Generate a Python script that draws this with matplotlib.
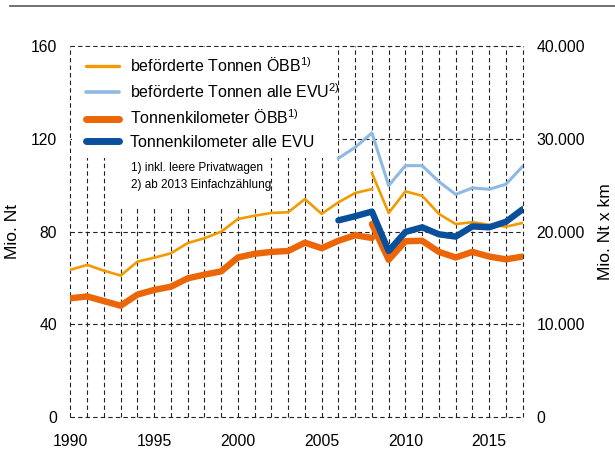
import matplotlib
matplotlib.use('Agg')
import matplotlib.pyplot as plt
from matplotlib import font_manager
from matplotlib.lines import Line2D
from matplotlib.patches import Rectangle
from matplotlib.ticker import FuncFormatter

#%% Data

years_a = list(range(1990, 2009))   # ÖBB series before the 2008 break
years_b = list(range(2008, 2018))   # ÖBB series after the break
years_evu = list(range(2006, 2018))

# beförderte Tonnen ÖBB, Mio. Nt
tonnen_oebb_a = [63.5, 65.6, 63.1, 61.0, 67.0, 68.7, 70.6, 75.0, 77.1, 79.9,
                 85.4, 86.8, 88.0, 88.3, 94.0, 87.6, 92.6, 96.6, 98.3]
tonnen_oebb_b = [105.2, 88.0, 97.3, 95.4, 87.6, 83.2, 84.0, 82.9, 82.1, 83.7]

# beförderte Tonnen alle EVU, Mio. Nt
tonnen_evu = [111.6, 116.3, 122.5, 99.8, 108.4, 108.4, 101.5, 96.0, 98.8, 98.2, 100.4, 108.1]

# Tonnenkilometer ÖBB, Mio. Ntkm
tkm_oebb_a = [12800, 13000, 12500, 12000, 13200, 13700, 14050, 14950, 15350, 15700,
              17200, 17600, 17800, 17900, 18800, 18200, 19000, 19600, 19300]
tkm_oebb_b = [20800, 16950, 18950, 19000, 17800, 17200, 17800, 17300, 17000, 17300]

# Tonnenkilometer alle EVU, Mio. Ntkm
tkm_evu = [21200, 21650, 22150, 17900, 19950, 20450, 19700, 19450, 20550, 20450, 21050, 22400]

labels = ['beförderte Tonnen ÖBB$^{1)}$', 'beförderte Tonnen alle EVU$^{2)}$',
          'Tonnenkilometer ÖBB$^{1)}$', 'Tonnenkilometer alle EVU']
notes = ['1) inkl. leere Privatwagen', '2) ab 2013 Einfachzählung']

#%% Style

names = {f.name for f in font_manager.fontManager.ttflist}
if 'Liberation Sans Narrow' in names:
    font = 'Liberation Sans Narrow'
    fs_leg, fs_tick, fs_note, fs_lab = 13.5, 13.5, 10, 14
else:
    font = 'Liberation Sans'
    fs_leg, fs_tick, fs_note, fs_lab = 11.5, 11.3, 8.5, 12.5
plt.rcParams['font.family'] = [font, 'DejaVu Sans']
plt.rcParams['mathtext.fontset'] = 'custom'
plt.rcParams['mathtext.rm'] = font

c_orange_thin = '#f39a00'
c_lightblue = '#8db9e3'
c_orange = '#ec6608'
c_blue = '#0a4f9c'
dash = (0, (4, 2.8))

fig = plt.figure(figsize=(6.15, 4.5), dpi=100)
ax = fig.add_axes([0.1145, 0.0733, 0.7354, 0.8245])
ax2 = ax.twinx()

ax.set_xlim(1990, 2017)
ax.set_ylim(0, 160)
ax2.set_ylim(0, 40000)
for a in (ax, ax2):
    for s in a.spines.values():
        s.set_visible(False)
    a.tick_params(length=0, labelsize=fs_tick)
ax2.patch.set_visible(False)

ax.set_xticks(range(1990, 2018))
ax.set_xticklabels([str(y) if y % 5 == 0 else '' for y in range(1990, 2018)])
ax.set_yticks([0, 40, 80, 120, 160])
ax2.set_yticks([0, 10000, 20000, 30000, 40000])
ax2.yaxis.set_major_formatter(FuncFormatter(lambda v, p: f'{int(v):,}'.replace(',', '.')))
ax.tick_params(axis='y', pad=9.5)
ax.tick_params(axis='x', pad=12)
ax2.tick_params(axis='y', pad=10)

ax.set_axisbelow(True)
ax.grid(True, color='#222222', linestyle=dash, linewidth=0.8)
for gl in ax.get_xgridlines() + ax.get_ygridlines():
    gl.set_clip_on(False)

# white areas behind legend and footnotes
ax.add_patch(Rectangle((1990.08, 111.7), 15.87, 47.9, facecolor='white', edgecolor='none', zorder=1))
ax.add_patch(Rectangle((1992.5, 90.6), 9.0, 21.5, facecolor='white', edgecolor='none', zorder=1))

ax.set_ylabel('Mio. Nt', fontsize=fs_lab)
ax2.set_ylabel('Mio. Nt x km', fontsize=fs_lab)
ax.yaxis.set_label_coords(-0.111, 0.5)
ax2.yaxis.set_label_coords(1.166, 0.5)

#%% Lines

ax.plot(years_a, tonnen_oebb_a, color=c_orange_thin, lw=1.9, zorder=3)
ax.plot(years_b, tonnen_oebb_b, color=c_orange_thin, lw=1.9, zorder=3)
ax.plot(years_evu, tonnen_evu, color=c_lightblue, lw=2.2, zorder=3)
ax2.plot(years_a, tkm_oebb_a, color=c_orange, lw=4.6, solid_capstyle='round')
ax2.plot(years_b, tkm_oebb_b, color=c_orange, lw=4.6, solid_capstyle='round')
ax2.plot(years_evu, tkm_evu, color=c_blue, lw=4.6, solid_capstyle='round')

#%% Legend and notes

handles = [Line2D([], [], color=c_orange_thin, lw=2.4, solid_capstyle='round'),
           Line2D([], [], color=c_lightblue, lw=2.6, solid_capstyle='round'),
           Line2D([], [], color=c_orange, lw=5, solid_capstyle='round'),
           Line2D([], [], color=c_blue, lw=5, solid_capstyle='round')]
fs_px = fs_leg * 100 / 72
ax2.legend(handles, labels, loc='upper left', bbox_to_anchor=(86 / 615, 1 - 56 / 450),
           bbox_transform=fig.transFigure, frameon=False, fontsize=fs_leg,
           handlelength=33 / fs_px, handletextpad=11 / fs_px,
           labelspacing=(23.5 - fs_px) / fs_px, borderpad=0, borderaxespad=0)
fig.text(131 / 615, 1 - 168 / 450, notes[0], fontsize=fs_note, va='center')
fig.text(131 / 615, 1 - 185 / 450, notes[1], fontsize=fs_note, va='center')

fig.add_artist(Line2D([10 / 615, 1], [1 - 6 / 450] * 2, color='#666666', lw=1.3))

fig.savefig('out.png', dpi=100)
